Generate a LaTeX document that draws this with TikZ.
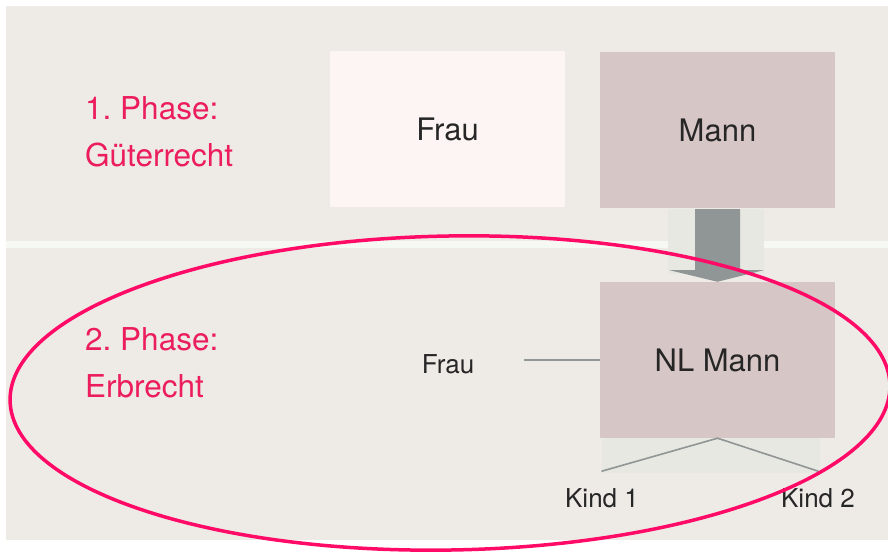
\documentclass[tikz,border=0pt]{standalone}
\usepackage{fontspec}
\setmainfont{TeX Gyre Heros}
\usetikzlibrary{calc}
\frenchspacing
\definecolor{bgbeige}{HTML}{EEEBE7}
\definecolor{stripwhite}{HTML}{F5F8F3}
\definecolor{frauback}{HTML}{FDF4F4}
\definecolor{mannback}{HTML}{D7C6C6}
\definecolor{phasepink}{HTML}{EC1D5C}
\definecolor{ringpink}{HTML}{FF0A66}
\definecolor{arrowgrey}{HTML}{909596}
\definecolor{shadegreen}{HTML}{E7E8E1}
\definecolor{textdark}{HTML}{262626}
\tikzset{
    person/.style={minimum width=235pt, minimum height=156pt, inner sep=0pt, text=textdark, font=\fontsize{31}{36}\selectfont},
    phase/.style={anchor=west, align=left, inner sep=0pt, text=phasepink, font=\fontsize{31.5}{47}\selectfont},
    small/.style={inner sep=0pt, text=textdark, font=\fontsize{26}{30}\selectfont},
    tie/.style={draw=arrowgrey, line width=1.6pt}
}
\begin{document}
\begin{tikzpicture}[line cap=round, line join=round, x=1pt, y=-1pt]
                \useasboundingbox (0,0) rectangle (888,553);
                \clip (0,0) rectangle (888,553);
                \fill[white] (0,0) rectangle (888,553);
                \fill[bgbeige] (6,6) rectangle (888,540);
                \fill[stripwhite] (6,241) rectangle (888,248);
                \fill[shadegreen] (668,209) rectangle (764,274);
                \fill[shadegreen] (602,438) rectangle (820,473);
                % phase labels
                \node[phase] (phaseone) at (85,131.5) {1. Phase:\\Güterrecht};
                \node[phase] (phasetwo) at (85,363) {2. Phase:\\Erbrecht};
                % persons
                \node[person, fill=frauback] (frau) at (447.5,129) {Frau};
                \node[person, fill=mannback] (mann) at (717.5,130) {Mann};
                \node[person, fill=mannback] (nlmann) at (717.5,360) {NL Mann};
                \node[small] (widow) at (448,364) {Frau};
                \node[small] (kindone) at (602,498) {Kind 1};
                \node[small] (kindtwo) at (818,498) {Kind 2};
                % arrow
                \fill[arrowgrey] ($(mann.south)+(-22.5,1)$) -- ($(mann.south)+(22.5,1)$) -- ($(mann.south)+(22.5,62)$) -- ($(mann.south)+(46,62)$)
                    -- (nlmann.north) -- ($(mann.south)+(-48,62)$) -- ($(mann.south)+(-22.5,62)$) -- cycle;
                \draw[tie, line width=1.3pt, shorten <=50pt] (widow.east |- nlmann.west) -- (nlmann.west);
                \foreach \kid in {kindone, kindtwo}
                    \draw[tie] (nlmann.south) -- ([yshift=17pt]\kid.north);
                \draw[ringpink, line width=3.5pt, rotate around={1:(450,393)}] (450,393) ellipse [x radius=440, y radius=157];
            \end{tikzpicture}
\end{document}
